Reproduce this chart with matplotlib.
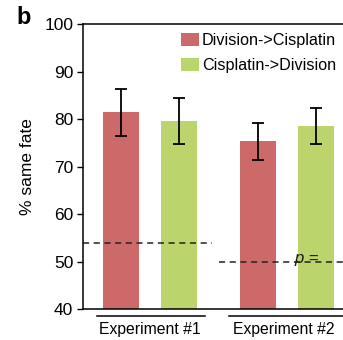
import matplotlib
matplotlib.use("Agg")
import matplotlib.pyplot as plt

# % same fate per experiment and treatment order
experiments = ["Experiment #1", "Experiment #2"]
orders = ["Division->Cisplatin", "Cisplatin->Division"]
div_cis = [81.4, 75.3]
cis_div = [79.6, 78.5]
div_cis_err = [4.9, 3.95]
cis_div_err = [4.8, 3.8]
chance = [54.0, 50.0]

RED = "#cc6a6a"
GREEN = "#bcd46c"

plt.rcParams["font.family"] = ["Liberation Sans", "DejaVu Sans"]
plt.rcParams["mathtext.fontset"] = "custom"
plt.rcParams["mathtext.it"] = "Liberation Sans:italic"
plt.rcParams["mathtext.rm"] = "Liberation Sans"

fig = plt.figure(figsize=(3.43, 3.40), dpi=100)
ax = fig.add_axes([0.242, 0.091, 0.77, 0.838])

x_red = [0.0, 2.36]
x_green = [1.0, 3.36]
w = 0.62
ax.bar(x_red, div_cis, width=w, color=RED, label=orders[0], zorder=1)
ax.bar(x_green, cis_div, width=w, color=GREEN, label=orders[1], zorder=1)
for xs, ys, es in [(x_red, div_cis, div_cis_err), (x_green, cis_div, cis_div_err)]:
    ax.errorbar(xs, ys, yerr=es, fmt="none", ecolor="black",
                elinewidth=1.3, capsize=4, capthick=1.3, zorder=3)

# chance level for each experiment
ax.plot([-0.655, 1.57], [chance[0]] * 2, color="#222222", ls=(0, (4, 3)), lw=1.1, zorder=2)
ax.plot([1.69, 3.9], [chance[1]] * 2, color="#222222", ls=(0, (4, 3)), lw=1.1, zorder=2)
ax.text(3.2, chance[1] + 0.3, r"$p$ =", fontsize=12, ha="center", va="center",
        color="#1a1a1a", zorder=4)

ax.set_xlim(-0.655, 3.9)
ax.set_ylim(40, 100)
ax.set_yticks(range(40, 101, 10))
ax.set_xticks([])
ax.tick_params(axis="y", direction="out", length=4, width=1, labelsize=12.5, pad=3)
for s in ax.spines.values():
    s.set_linewidth(1.1)
ax.set_ylabel("% same fate", fontsize=12.5, labelpad=7)

# group brackets under the axis
for (x0, x1), xc, name in zip([(-0.41, 1.45), (1.86, 3.9)], [0.5, 2.81], experiments):
    ax.plot([x0, x1], [38.5, 38.5], color="black", lw=1.1, clip_on=False)
    ax.text(xc, 35.8, name, fontsize=11.3, ha="center", va="center")

ax.legend(loc="upper left", bbox_to_anchor=(181 / 343, 1 - 33 / 340),
          bbox_transform=fig.transFigure, frameon=False, fontsize=11.6,
          handlelength=1.1, handleheight=0.9, handletextpad=0.2, labelspacing=0.6,
          borderaxespad=0, borderpad=0)

fig.text(0.048, 0.948, "b", fontsize=17, fontweight="bold", va="center")

fig.savefig("out.png", dpi=100)
